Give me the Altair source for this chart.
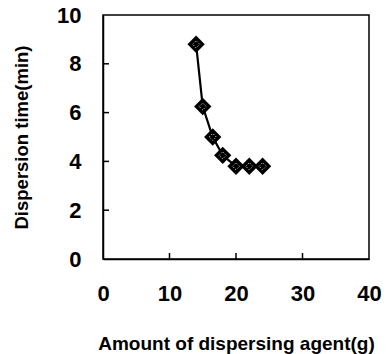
import altair as alt
import pandas as pd

amount = [14, 15, 16.5, 18, 20, 22, 24]
disp_time = [8.8, 6.25, 5.0, 4.25, 3.8, 3.8, 3.8]
x_ticks = [10, 20, 30]
y_ticks = [2, 4, 6, 8]

df = pd.DataFrame({"amount": amount, "time": disp_time})
xt = pd.DataFrame({"v": x_ticks})
yt = pd.DataFrame({"v": y_ticks})

W, H = 266, 244
LFONT = "Liberation Sans"
TFONT = "Liberation Sans"

xscale = alt.Scale(domain=[0, 40], nice=False)
yscale = alt.Scale(domain=[0, 10], nice=False)

xaxis = alt.Axis(values=[0, 10, 20, 30, 40], ticks=False, grid=False,
                 labelFlush=False, labelOverlap=False,
                 title="Amount of dispersing agent(g)", labelFontSize=22,
                 labelFont=LFONT, labelFontWeight="bold", labelColor="black",
                 labelPadding=24,
                 titleFont=TFONT, titleFontSize=19, titleFontWeight="bold",
                 titleColor="black", titlePadding=30,
                 domainColor="black", domainWidth=1.5)
yaxis = alt.Axis(values=[0, 2, 4, 6, 8, 10], ticks=False, grid=False,
                 labelFlush=False, labelOverlap=False,
                 title="Dispersion time(min)", labelFontSize=22,
                 labelFont=LFONT, labelFontWeight="bold", labelColor="black",
                 labelPadding=22,
                 titleFont=TFONT, titleFontSize=18.5, titleFontWeight="bold",
                 titleColor="black", titlePadding=25,
                 domainColor="black", domainWidth=1.5)

base = alt.Chart(df)
line = base.mark_line(color="black", strokeWidth=2.2).encode(
    x=alt.X("amount:Q", scale=xscale, axis=xaxis),
    y=alt.Y("time:Q", scale=yscale, axis=yaxis),
)
pts = base.mark_point(shape="diamond", filled=True, color="black", size=300, opacity=1).encode(
    x=alt.X("amount:Q", scale=xscale),
    y=alt.Y("time:Q", scale=yscale),
)
inner = base.mark_point(shape="diamond", filled=False, color="white", size=50,
                        strokeWidth=1, strokeDash=[1, 2], opacity=1).encode(
    x=alt.X("amount:Q", scale=xscale),
    y=alt.Y("time:Q", scale=yscale),
)
xticks = alt.Chart(xt).mark_rule(color="black", strokeWidth=1.5).encode(
    x=alt.X("v:Q", scale=xscale),
    y=alt.value(H),
    y2=alt.value(H - 6),
)
yticks = alt.Chart(yt).mark_rule(color="black", strokeWidth=1.5).encode(
    y=alt.Y("v:Q", scale=yscale),
    x=alt.value(0),
    x2=alt.value(6),
)

chart = alt.layer(line, xticks, yticks, pts, inner).properties(
    width=W, height=H,
    padding={"left": 12, "top": 4, "right": 5, "bottom": 5},
).configure_view(stroke="black", strokeWidth=1.5)

chart.save("out.html", embed_options={"renderer": "svg", "actions": False})
